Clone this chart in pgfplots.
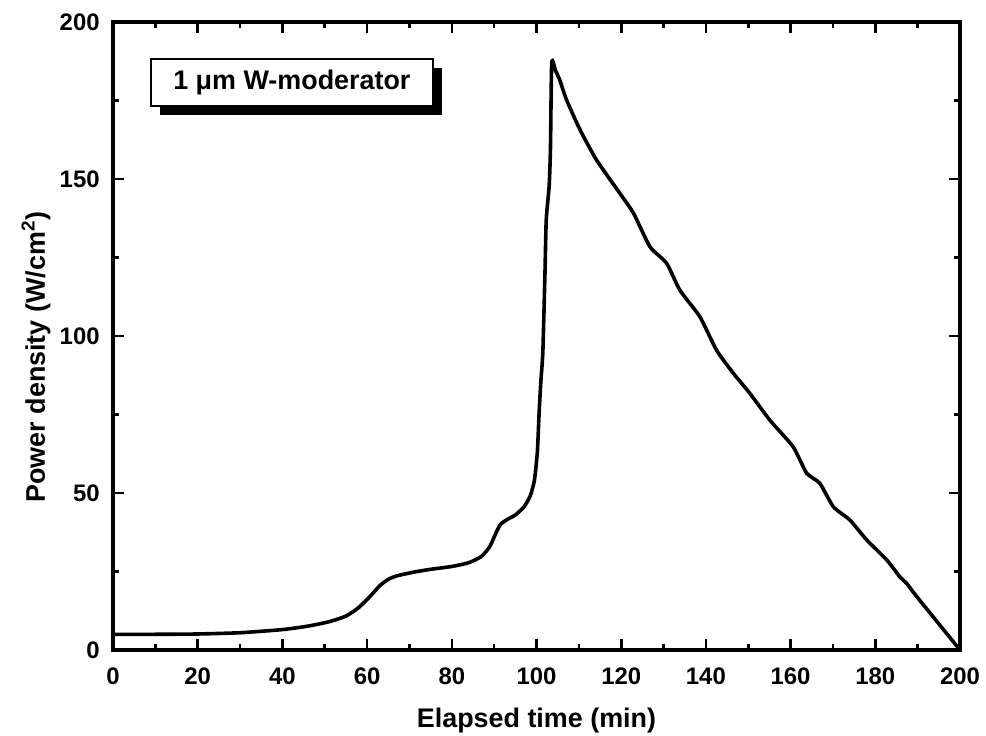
\documentclass[border=0pt]{standalone}
\usepackage{pgfplots}
\pgfplotsset{compat=1.18}
\usepackage{fontspec}
\setmainfont{Liberation Sans}
\usetikzlibrary{shadows}
\begin{document}
\begin{tikzpicture}
\begin{axis}[
  scale only axis,
  width=423.5bp, height=314bp,
  xmin=0, xmax=200, ymin=0, ymax=200,
  xtick={0,20,...,200}, ytick={0,50,...,200},
  minor x tick num=1, minor y tick num=1,
  tick align=inside,
  major tick length=5.5bp, minor tick length=2.8bp,
  every tick/.style={line width=1.3bp, black},
  axis line style={line width=1.6bp},
  /pgf/number format/assume math mode=true,
  ticklabel style={font=\fontsize{12}{14}\selectfont\bfseries},
  xticklabel style={anchor=north, inner sep=0pt, yshift=-8.5bp},
  yticklabel style={anchor=east, inner sep=0pt, xshift=-6.5bp},
  clip=false,
]
\addplot[black, line width=1.8bp, smooth, tension=0.35] coordinates {
(0,5.0) (10,5.0) (20,5.1) (30,5.5) (40,6.5) (46,7.6) (51,9.0) (55,10.8) (58,13.5)
(61,17.5) (63,20.5) (65,22.5) (67,23.6) (71,24.8) (75,25.7) (80,26.6) (84,27.8)
(87,29.8) (89,33.0) (90.5,37.5) (91.5,40.0) (93,41.5) (95,43.0) (97,45.5) (98.5,49)
(99.5,54) (100.2,63) (100.6,75) (101,85) (101.5,95) (102,120) (102.3,137) (103,148)
(103.3,160) (103.6,187) (104.5,184.5) (105.5,181.5) (107.1,175.2) (110.3,165.6)
(114.2,156) (119.7,145.4) (122.9,139.1) (126.8,128.4) (130.7,123.2) (133.9,114.5)
(138.6,106.1) (142.5,95.5) (146.5,88.1) (150.4,81.7) (155.1,73.2) (160.6,64.7)
(163.8,56.3) (166.9,53.1) (170.1,45.6) (174.0,41.4) (178,35) (182.7,28.7)
(185.8,23.3) (187.4,21.2) (189.8,17) (200,0)
};
\node[draw=black, line width=0.85bp, fill=white, anchor=north west,
  minimum width=141bp, minimum height=23.5bp, inner sep=2bp,
  font=\fontsize{13.5}{15}\selectfont\bfseries,
  drop shadow={shadow xshift=4.5bp, shadow yshift=-4.5bp, fill=black, opacity=1}]
  at (axis cs:8.74,188.5) {1 μm W-moderator};
\node[anchor=base, font=\fontsize{13.5}{15}\selectfont\bfseries]
  at ([yshift=-38.5bp]rel axis cs:0.5,0) {Elapsed time (min)};
\node[rotate=90, anchor=base, font=\fontsize{13.5}{15}\selectfont\bfseries]
  at ([xshift=-34bp, yshift=-10.5bp]rel axis cs:0,0.5) {Power density (W/cm\textsuperscript{2})};
\end{axis}
\pgfresetboundingbox
\path ([xshift=-56.5bp, yshift=-43bp]current axis.south west)
  rectangle ([xshift=13bp, yshift=11bp]current axis.north east);
\end{tikzpicture}
\end{document}
